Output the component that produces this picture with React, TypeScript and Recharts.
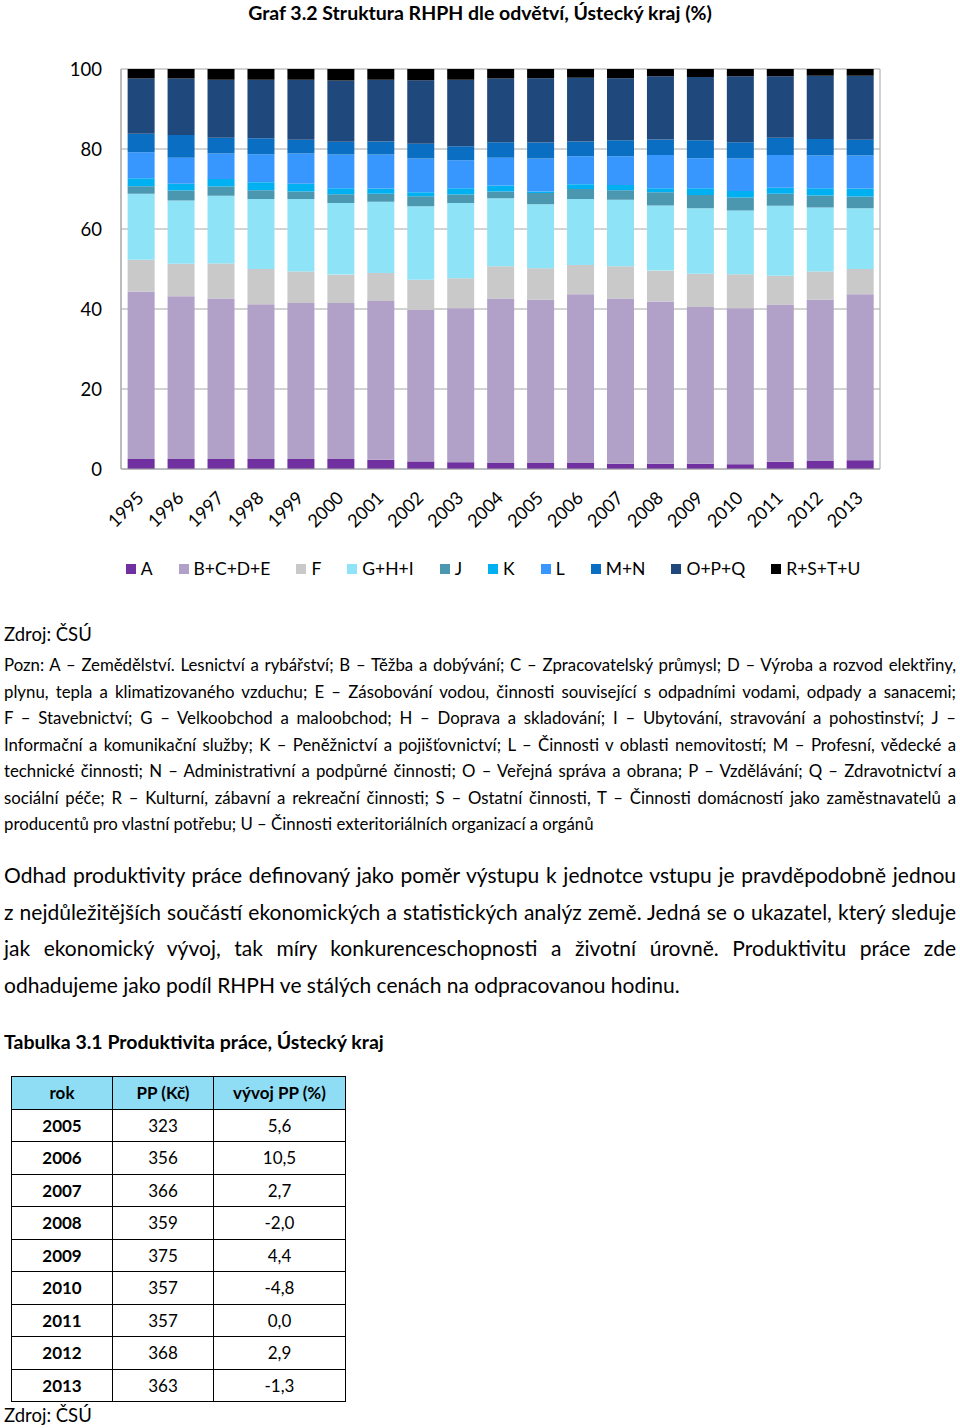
import { Bar, BarChart, CartesianGrid, XAxis, YAxis } from "recharts";

const FONT = "Lato, 'Open Sans', sans-serif";

const years = ["1995", "1996", "1997", "1998", "1999", "2000", "2001", "2002", "2003", "2004", "2005", "2006", "2007", "2008", "2009", "2010", "2011", "2012", "2013"];

const sectorA = [2.5, 2.5, 2.5, 2.5, 2.5, 2.5, 2.3, 1.9, 1.7, 1.5, 1.5, 1.5, 1.3, 1.3, 1.3, 1.2, 1.8, 2.0, 2.2];
const sectorBCDE = [41.9, 40.7, 40.1, 38.7, 39.0, 39.0, 39.7, 37.9, 38.5, 41.1, 40.8, 42.2, 41.3, 40.6, 39.2, 39.0, 39.3, 40.3, 41.5];
const sectorF = [7.9, 8.1, 8.8, 8.8, 7.9, 7.1, 7.0, 7.5, 7.5, 8.1, 7.9, 7.3, 8.1, 7.7, 8.3, 8.5, 7.2, 7.1, 6.3];
const sectorGHI = [16.5, 15.8, 16.9, 17.5, 18.1, 17.9, 17.8, 18.4, 18.8, 17.0, 16.0, 16.5, 16.6, 16.3, 16.4, 15.9, 17.5, 16.0, 15.2];
const sectorJ = [1.9, 2.5, 2.3, 2.2, 1.9, 2.2, 2.0, 2.5, 2.1, 1.7, 2.8, 2.5, 2.4, 3.3, 3.3, 3.3, 3.0, 3.0, 2.9];
const sectorK = [2.0, 1.7, 1.9, 2.0, 1.9, 1.5, 1.3, 1.0, 1.6, 1.5, 0.4, 1.2, 1.3, 1.0, 1.7, 1.6, 1.5, 1.8, 2.0];
const sectorL = [6.5, 6.5, 6.4, 7.0, 7.6, 8.4, 8.5, 8.4, 7.0, 6.9, 8.2, 7.0, 7.2, 8.3, 7.5, 8.1, 8.2, 8.2, 8.3];
const sectorMN = [4.6, 5.7, 3.9, 4.0, 3.4, 3.2, 3.3, 3.7, 3.5, 3.9, 4.0, 3.7, 4.0, 3.9, 4.5, 4.1, 4.3, 4.1, 3.9];
const sectorOPQ = [13.8, 14.1, 14.5, 14.6, 15.0, 15.3, 15.4, 15.9, 16.6, 15.9, 16.1, 15.9, 15.5, 15.8, 15.8, 16.5, 15.4, 15.8, 16.0];
const sectorRSTU = [2.4, 2.4, 2.7, 2.7, 2.7, 2.9, 2.7, 2.8, 2.7, 2.4, 2.3, 2.2, 2.3, 1.8, 2.0, 1.8, 1.8, 1.7, 1.7];

const yTicks = [0, 20, 40, 60, 80, 100];

// bottom to top
const series = [
  { key: "A", values: sectorA, color: "#7030A0" },
  { key: "B+C+D+E", values: sectorBCDE, color: "#B1A0C7" },
  { key: "F", values: sectorF, color: "#C9C9C9" },
  { key: "G+H+I", values: sectorGHI, color: "#8FE3F7" },
  { key: "J", values: sectorJ, color: "#4A97AF" },
  { key: "K", values: sectorK, color: "#00B0F0" },
  { key: "L", values: sectorL, color: "#3797FF" },
  { key: "M+N", values: sectorMN, color: "#0A6FC2" },
  { key: "O+P+Q", values: sectorOPQ, color: "#1F487C" },
  { key: "R+S+T+U", values: sectorRSTU, color: "#000000" },
];

const rows = years.map((year, i) => {
  const row: Record<string, string | number> = { year };
  series.forEach((s) => {
    row[s.key] = s.values[i];
  });
  return row;
});

const poznLines = [
  "Pozn: A – Zemědělství. Lesnictví a rybářství; B – Těžba a dobývání; C – Zpracovatelský průmysl; D – Výroba a rozvod elektřiny,",
  "plynu, tepla a klimatizovaného vzduchu; E – Zásobování vodou, činnosti související s odpadními vodami, odpady a sanacemi;",
  "F – Stavebnictví; G – Velkoobchod a maloobchod; H – Doprava a skladování; I – Ubytování, stravování a pohostinství; J –",
  "Informační a komunikační služby; K – Peněžnictví a pojišťovnictví; L – Činnosti v oblasti nemovitostí; M – Profesní, vědecké a",
  "technické činnosti; N – Administrativní a podpůrné činnosti; O – Veřejná správa a obrana; P – Vzdělávání; Q – Zdravotnictví a",
  "sociální péče; R – Kulturní, zábavní a rekreační činnosti; S – Ostatní činnosti, T – Činnosti domácností jako zaměstnavatelů a",
  "producentů pro vlastní potřebu; U – Činnosti exteritoriálních organizací a orgánů",
];

const textLines = [
  "Odhad produktivity práce definovaný jako poměr výstupu k jednotce vstupu je pravděpodobně jednou",
  "z nejdůležitějších součástí ekonomických a statistických analýz země. Jedná se o ukazatel, který sleduje",
  "jak ekonomický vývoj, tak míry konkurenceschopnosti a životní úrovně. Produktivitu práce zde",
  "odhadujeme jako podíl RHPH ve stálých cenách na odpracovanou hodinu.",
];

const tableYears = ["2005", "2006", "2007", "2008", "2009", "2010", "2011", "2012", "2013"];
const tablePP = ["323", "356", "366", "359", "375", "357", "357", "368", "363"];
const tableGrowth = ["5,6", "10,5", "2,7", "-2,0", "4,4", "-4,8", "0,0", "2,9", "-1,3"];

const YearTick = ({ x, y, payload }: any) => {
  const ax = x + 4;
  const ay = y + 30;
  return (
    <text
      x={ax}
      y={ay}
      textAnchor="end"
      transform={`rotate(-45, ${ax}, ${ay})`}
      fontSize={18}
      fontFamily={FONT}
      fill="#000"
    >
      {payload.value}
    </text>
  );
};

const Legend = () => (
  <div
    style={{
      position: "absolute",
      top: 558,
      left: 0,
      width: 1012,
      display: "flex",
      justifyContent: "center",
      fontSize: 17.5,
      lineHeight: "22px",
    }}
  >
    {series.map((s) => (
      <div key={s.key} style={{ display: "flex", alignItems: "center", marginRight: 26 }}>
        <span style={{ width: 10, height: 10, background: s.color, marginRight: 5 }} />
        <span>{s.key}</span>
      </div>
    ))}
  </div>
);

const cell = (w: number, bold: boolean, bg?: string) => ({
  width: w,
  height: 32.5,
  border: "1px solid #000",
  textAlign: "center" as const,
  fontWeight: bold ? 700 : 400,
  background: bg,
  padding: 0,
  boxSizing: "border-box" as const,
});

export default function App() {
  return (
    <div
      style={{
        position: "absolute",
        top: 0,
        left: 0,
        width: 960,
        height: 1428,
        fontFamily: FONT,
        color: "#000",
        background: "#fff",
      }}
    >
      <div
        style={{
          position: "absolute",
          top: 0,
          left: 0,
          width: 960,
          textAlign: "center",
          fontWeight: 700,
          fontSize: 19.5,
          lineHeight: "26px",
        }}
      >
        Graf 3.2 Struktura RHPH dle odvětví, Ústecký kraj (%)
      </div>

      <div style={{ position: "absolute", top: 0, left: 0 }}>
        <BarChart
          width={960}
          height={530}
          data={rows}
          margin={{ top: 69, right: 80, bottom: 0, left: 0 }}
          barCategoryGap="16.6%"
        >
          <CartesianGrid
            stroke="#A6A6A6"
            verticalCoordinatesGenerator={({ offset }: any) => [offset.left, offset.left + offset.width]}
          />
          <XAxis
            dataKey="year"
            height={61}
            tickLine={false}
            tickSize={0}
            tickMargin={0}
            axisLine={{ stroke: "#A6A6A6" }}
            interval={0}
            tick={<YearTick />}
          />
          <YAxis
            width={121}
            domain={[0, 100]}
            ticks={yTicks}
            allowDataOverflow
            tickLine={false}
            tickSize={0}
            tickMargin={19}
            axisLine={{ stroke: "#A6A6A6" }}
            tick={{ fontSize: 18.5, fill: "#000", fontFamily: FONT }}
          />
          {series.map((s) => (
            <Bar key={s.key} dataKey={s.key} stackId="a" fill={s.color} isAnimationActive={false} />
          ))}
        </BarChart>
      </div>

      <Legend />

      <div style={{ position: "absolute", top: 621, left: 4, fontSize: 18.5, lineHeight: "26px" }}>Zdroj: ČSÚ</div>

      <div style={{ position: "absolute", top: 652, left: 4, width: 952, fontSize: 16.8, lineHeight: "26.5px" }}>
        {poznLines.map((line, i) => (
          <div
            key={i}
            style={{ textAlign: "justify", textAlignLast: i < poznLines.length - 1 ? "justify" : "left" }}
          >
            {line}
          </div>
        ))}
      </div>

      <div style={{ position: "absolute", top: 857, left: 4, width: 952, fontSize: 21, lineHeight: "36.7px" }}>
        {textLines.map((line, i) => (
          <div
            key={i}
            style={{ textAlign: "justify", textAlignLast: i < textLines.length - 1 ? "justify" : "left" }}
          >
            {line}
          </div>
        ))}
      </div>

      <div style={{ position: "absolute", top: 1029, left: 4, fontSize: 19.5, fontWeight: 700, lineHeight: "26px" }}>
        Tabulka 3.1 Produktivita práce, Ústecký kraj
      </div>

      <table
        style={{
          position: "absolute",
          top: 1076,
          left: 11,
          borderCollapse: "collapse",
          fontSize: 17,
          fontFamily: FONT,
        }}
      >
        <thead>
          <tr>
            <th style={cell(101, true, "#8FDCF5")}>rok</th>
            <th style={cell(101, true, "#8FDCF5")}>PP (Kč)</th>
            <th style={cell(132, true, "#8FDCF5")}>vývoj PP (%)</th>
          </tr>
        </thead>
        <tbody>
          {tableYears.map((y, i) => (
            <tr key={y}>
              <td style={cell(101, true)}>{y}</td>
              <td style={cell(101, false)}>{tablePP[i]}</td>
              <td style={cell(132, false)}>{tableGrowth[i]}</td>
            </tr>
          ))}
        </tbody>
      </table>

      <div style={{ position: "absolute", top: 1402, left: 4, fontSize: 18.5, lineHeight: "26px" }}>Zdroj: ČSÚ</div>
    </div>
  );
}
